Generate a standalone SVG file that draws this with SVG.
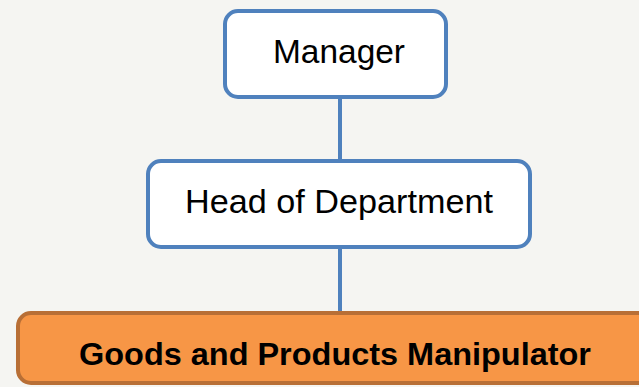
<svg xmlns="http://www.w3.org/2000/svg" width="639" height="387" viewBox="0 0 639 387">
<style>
.blue{fill:#ffffff;stroke:#4f81bd;stroke-width:4}
.orange{fill:#f79646;stroke:#b86f36;stroke-width:4}
.t{font-family:"Liberation Sans",Arial,sans-serif;font-size:33px;fill:#000;text-anchor:middle}
.tb{font-family:"Liberation Sans",Arial,sans-serif;font-size:31px;font-weight:bold;fill:#000;text-anchor:middle}
.conn{stroke:#4f81bd;stroke-width:4;fill:none}
</style>
<rect x="0" y="0" width="639" height="387" fill="#f5f5f2"/>
<g id="connectors">
<line class="conn" x1="340" y1="97" x2="340" y2="161"/>
<line class="conn" x1="340" y1="247" x2="340" y2="313"/>
</g>
<g id="manager">
<rect class="blue" x="225" y="11" width="221" height="86" rx="13"/>
<text class="t" x="339" y="63" textLength="132" lengthAdjust="spacingAndGlyphs">Manager</text>
</g>
<g id="head">
<rect class="blue" x="148" y="161" width="382" height="86" rx="13"/>
<text class="t" x="339" y="213" textLength="308" lengthAdjust="spacingAndGlyphs">Head of Department</text>
</g>
<g id="goods">
<rect class="orange" x="18" y="313" width="634" height="70" rx="13"/>
<text class="tb" x="335" y="365" textLength="512" lengthAdjust="spacingAndGlyphs">Goods and Products Manipulator</text>
</g>
</svg>
